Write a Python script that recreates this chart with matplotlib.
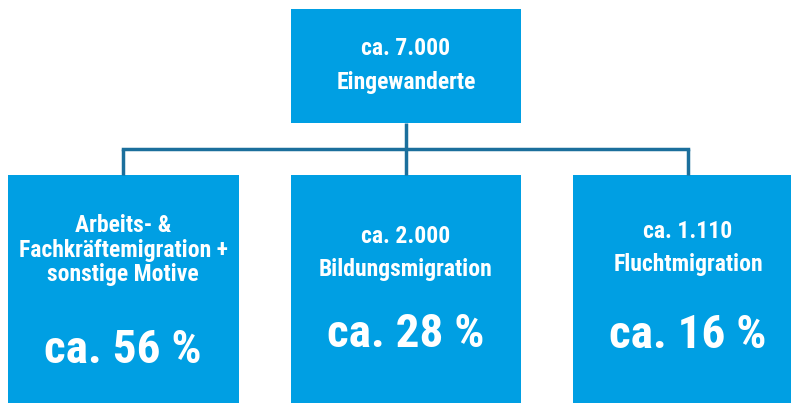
import matplotlib.pyplot as plt
from matplotlib.patches import Rectangle

# data
top_label = "ca. 7.000\nEingewanderte"
child_labels = [
    "Arbeits- &\nFachkräftemigration +\nsonstige Motive",
    "ca. 2.000\nBildungsmigration",
    "ca. 1.110\nFluchtmigration",
]
child_shares = [56, 28, 16]

BOX = "#009fe3"
LINE = "#1b6f9c"
FONT = ["Roboto Condensed", "Roboto", "DejaVu Sans"]

fig = plt.figure(figsize=(7.91, 4.03), dpi=100)
ax = fig.add_axes([0, 0, 1, 1])
ax.set_xlim(0, 791)
ax.set_ylim(403, 0)
ax.axis("off")

# top box
ax.add_patch(Rectangle((291, 9), 230, 114, color=BOX, lw=0))
ax.text(406, 65.5, top_label, ha="center", va="center", color="white",
        fontsize=17, fontweight="bold", family=FONT, fontstretch="condensed",
        linespacing=1.57)

# connectors
child_x = [(8, 239), (291, 521), (573, 803)]  # last box runs off the edge
centers = [123, 406, 688]
ax.plot([406, 406], [123, 149], color=LINE, lw=2.5, solid_capstyle="butt")
ax.plot([centers[0], centers[-1]], [149, 149], color=LINE, lw=2.5,
        solid_capstyle="projecting")
for cx in centers:
    ax.plot([cx, cx], [149, 175], color=LINE, lw=2.5, solid_capstyle="butt")

# child boxes
label_y = [250, 253, 248]
big_y = [350, 334, 335]
for (x0, x1), xc, lab, share, ly, by in zip(child_x, centers, child_labels,
                                             child_shares, label_y, big_y):
    ax.add_patch(Rectangle((x0, 175), x1 - x0, 240, color=BOX, lw=0))
    ax.text(xc, ly, lab, ha="center", va="center", color="white",
            fontsize=17, fontweight="bold", family=FONT, fontstretch="condensed",
            linespacing=1.11 if lab.count("\n") > 1 else 1.57)
    ax.text(xc, by, f"ca. {share} %", ha="center", va="center", color="white",
            fontsize=34, fontweight="bold", family=FONT, fontstretch="condensed")

fig.savefig("out.png", dpi=100)
